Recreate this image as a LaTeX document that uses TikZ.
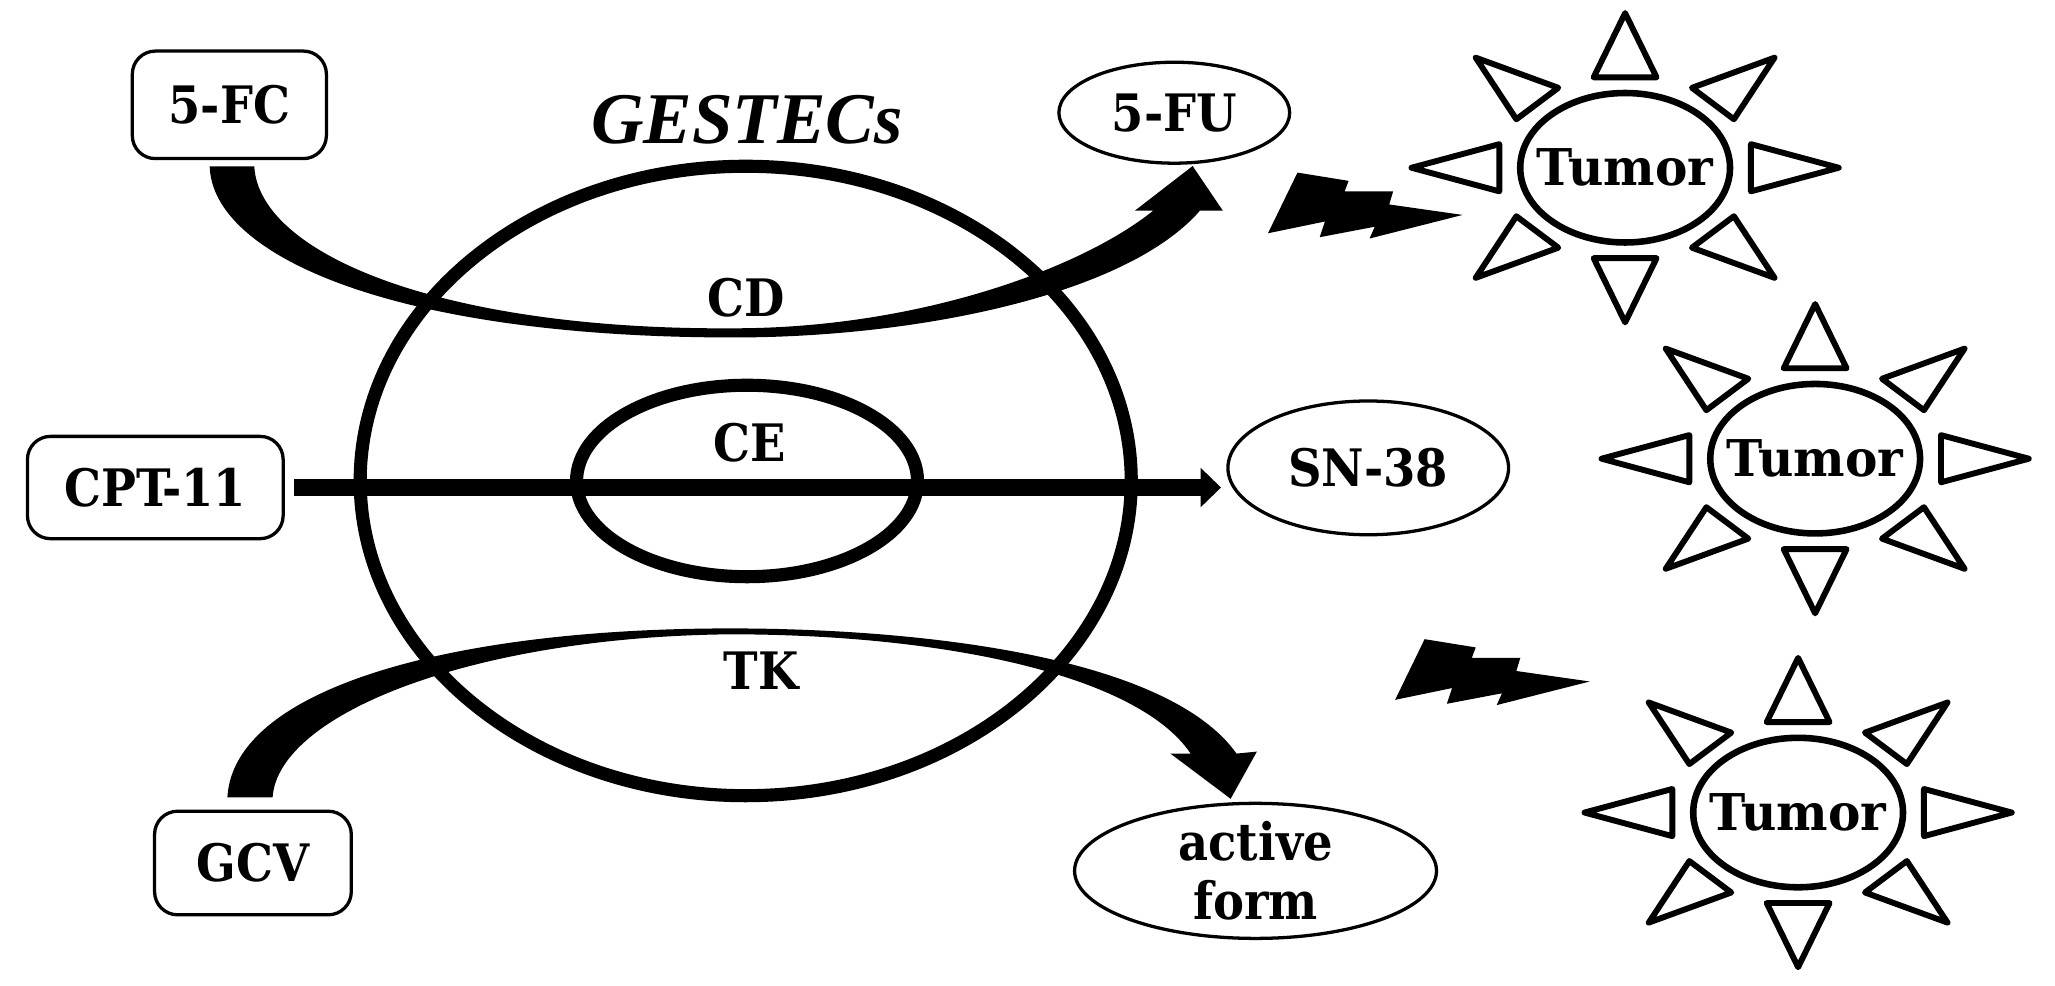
\documentclass[tikz,border=0pt]{standalone}
\usepackage{fontspec}
\setmainfont{Liberation Serif}
\newfontfamily\labelfont{DejaVu Serif Condensed}
\newfontfamily\titlefont{Liberation Serif}
\newfontfamily\tumorfont[FakeStretch=0.96]{DejaVu Serif}
\usetikzlibrary{arrows.meta,positioning,shapes.geometric}
\tikzset{
  drugbox/.style={rectangle,rounded corners=5pt,draw=black,line width=0.025cm,
                  font=\fontsize{11.2}{12.8}\labelfont\bfseries,align=center,inner sep=0pt},
  drugoval/.style={ellipse,draw=black,line width=0.025cm,
                   font=\fontsize{11.2}{12.8}\labelfont\bfseries,align=center,inner sep=0pt},
  cellring/.style={ellipse,draw=black,line width=0.1cm,inner sep=0pt},
  enzyme/.style={font=\fontsize{11.2}{12.8}\labelfont\bfseries,inner sep=0pt},
  tumorcore/.style={ellipse,draw=black,line width=0.05cm,minimum width=1.6cm,minimum height=1.14cm,
                    font=\fontsize{11}{13}\tumorfont\bfseries,inner xsep=-0.2cm,inner ysep=0pt},
  ray/.style={draw=black,line width=0.045cm,line join=round},
  arr/.style={-{Triangle[length=0.155cm,width=0.29cm]},line width=0.135cm},
}
\begin{document}
\begin{tikzpicture}[x=0.01cm,y=-0.01cm]
    \useasboundingbox (0,0) rectangle (1568,752);
    % cell and enzymes
    \node[cellring,minimum width=5.88cm,minimum height=4.8cm] (gestec) at (569,367) {};
    \node[cellring,minimum width=2.6cm,minimum height=1.46cm] (ce) at (570,367) {};
    \node[font=\fontsize{15.8}{18}\titlefont\bfseries\itshape,inner sep=0pt] (title) at (570,91) {GESTECs};
    \node[enzyme] (cdlabel) at (569,227) {CD};
    \node[enzyme] (celabel) at (572,338) {CE};
    \node[enzyme] (tklabel) at (581,512) {TK};
    % prodrugs
    \node[drugbox,minimum width=1.48cm,minimum height=0.82cm] (fc) at (175,80) {5-FC};
    \node[drugbox,minimum width=1.95cm,minimum height=0.78cm] (cpt) at (118.5,372) {CPT-11};
    \node[drugbox,minimum width=1.5cm,minimum height=0.79cm] (gcv) at (193,658.5) {GCV};
    % products
    \node[drugoval,minimum width=1.76cm,minimum height=0.77cm] (fu) at (896,86) {5-FU};
    \node[drugoval,minimum width=2.14cm,minimum height=1.02cm] (sn) at (1044,357) {SN-38};
    \node[drugoval,minimum width=2.76cm,minimum height=1.03cm,inner ysep=-0.06cm] (active) at (958,664.5) {active\\form};
    % wedge arrows
    \coordinate (cdtail) at (177,127);
    \coordinate (cdtip) at (910,126.7);
    \coordinate (tktail) at (191,608.5);
    \coordinate (tktip) at (939,609.5);
    \fill (cdtail) ++(-17,0) .. controls (162,195) and (300,257.5) .. (560,257.5)
          .. controls (700,257.5) and (860,225) .. (915.6,160.7) -- (933,160.7) -- (cdtip) -- (866,160.7) -- (880,160.7)
          .. controls (825,205) and (700,250.5) .. (560,250.5)
          .. controls (340,252) and (198,195) .. (194,127) -- cycle;
    \fill (tktail) ++(-17.5,0) .. controls (178,525) and (345,479.5) .. (557,479.5)
          .. controls (700,479.5) and (890,500) .. (943.5,575) -- (959,573.5) -- (tktip) -- (893,575) -- (908.5,575)
          .. controls (868,515) and (720,484) .. (557,484)
          .. controls (360,486) and (212,545) .. (208,608.5) -- cycle;
    \draw[arr,shorten <=0.07cm,shorten >=0.04cm] (cpt.east) -- (cpt.east -| sn.west);
    % tumors
    \foreach \cx/\cy/\n in {1240/128/1,1385/350/2,1372/620/3}{
      \node[tumorcore] (tumor\n) at (\cx,\cy) {Tumor};
      \begin{scope}[shift={(\cx,\cy)}]
        \foreach \sx in {-1,1}{
          \draw[ray] (\sx*163,0) -- (\sx*96,-18) -- (\sx*96,18) -- cycle;
          \draw[ray] (0,\sx*118) -- (-24,\sx*69) -- (24,\sx*69) -- cycle;
          \foreach \sy in {-1,1}
            \draw[ray] (\sx*114,\sy*84) -- (\sx*51,\sy*61) -- (\sx*83,\sy*37) -- cycle;
        }
      \end{scope}
    }
    % bolts
    \foreach \dx/\dy in {0/0,97/356}{
      \begin{scope}[shift={(\dx,\dy)}]
        \fill (990,131.7) -- (1029,138) -- (1026,146) -- (1063,146) -- (1060,156) -- (1116,164)
              -- (1045,182) -- (1049,173) -- (1007,181) -- (1011,169) -- (967.5,178) -- cycle;
      \end{scope}
    }
\end{tikzpicture}
\end{document}
